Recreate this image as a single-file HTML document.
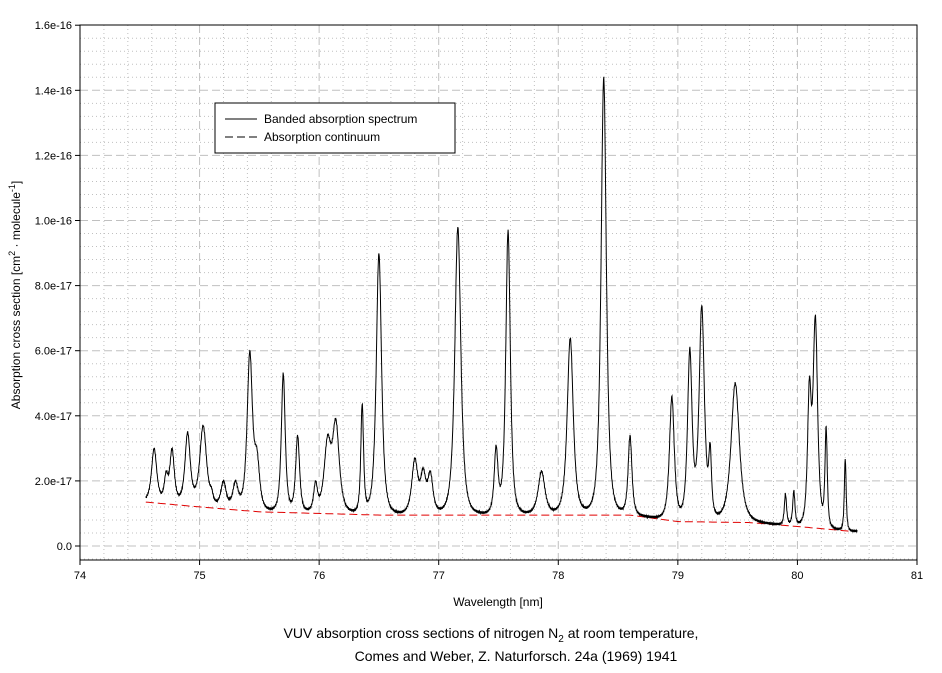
<!DOCTYPE html>
<html><head><style>
body{margin:0;background:#fff;}
svg text{font-family:"Liberation Sans",Arial,sans-serif;}
</style></head><body>
<svg id="s" width="942" height="668" xmlns="http://www.w3.org/2000/svg">
<rect width="942" height="668" fill="#fff"/>
<g id="grid"></g>
<rect x="80" y="25" width="837" height="535" fill="none" stroke="#000" stroke-width="1"/>
<g id="ticks" font-size="11"></g>
<path id="cont" fill="none" stroke="#e00000" stroke-width="1" stroke-dasharray="8,4"/>
<path id="spec" fill="none" stroke="#000" stroke-width="1"/>
<rect x="215" y="103" width="240" height="50" fill="#fff" stroke="#000"/>
<line x1="225" y1="119" x2="257" y2="119" stroke="#000"/>
<text x="264" y="123" font-size="12">Banded absorption spectrum</text>
<line x1="225" y1="137" x2="257" y2="137" stroke="#000" stroke-dasharray="8,4"/>
<text x="264" y="141" font-size="12">Absorption continuum</text>
<text x="498" y="606" font-size="12" text-anchor="middle">Wavelength [nm]</text>
<text transform="translate(20,295) rotate(-90)" font-size="12" text-anchor="middle">Absorption cross section [cm<tspan dy="-5" font-size="9">2</tspan><tspan dy="5"> · molecule</tspan><tspan dy="-5" font-size="9">-1</tspan><tspan dy="5">]</tspan></text>
<text x="491" y="638" font-size="14" text-anchor="middle">VUV absorption cross sections of nitrogen N<tspan dy="4" font-size="10">2</tspan><tspan dy="-4"> at room temperature,</tspan></text>
<text x="516" y="661" font-size="14" text-anchor="middle">Comes and Weber, Z. Naturforsch. 24a (1969) 1941</text>
</svg>
<script>
const X=l=>80+(l-74)*119.57, Y=v=>546-v*32.55;
const ns="http://www.w3.org/2000/svg";
const g=document.getElementById('grid'),t=document.getElementById('ticks');
function ln(p,x1,y1,x2,y2,st,da){const e=document.createElementNS(ns,'line');e.setAttribute('x1',x1);e.setAttribute('y1',y1);e.setAttribute('x2',x2);e.setAttribute('y2',y2);e.setAttribute('stroke',st);if(da)e.setAttribute('stroke-dasharray',da);p.appendChild(e);}
function tx(x,y,s,a){const e=document.createElementNS(ns,'text');e.setAttribute('x',x);e.setAttribute('y',y);e.setAttribute('text-anchor',a);e.textContent=s;t.appendChild(e);}
for(let i=0;i<=35;i++){const x=X(74+i*0.2);if(i%5)ln(g,x,25,x,560,'#c0c0c0','1,3');else if(i>0&&i<35)ln(g,x,25,x,560,'#c0c0c0','8,4');}
for(let i=-1;i<=40;i++){const y=Y(i*0.4);if(y<25||y>560)continue;if(i%5)ln(g,80,y,917,y,'#c0c0c0','1,3');else if(i<40)ln(g,80,y,917,y,'#c0c0c0','8,4');}
for(let i=0;i<=7;i++){const x=X(74+i);ln(t,x,560,x,565,'#000');tx(x,579,String(74+i),'middle');}
const yl=['0.0','2.0e-17','4.0e-17','6.0e-17','8.0e-17','1.0e-16','1.2e-16','1.4e-16','1.6e-16'];
for(let i=0;i<=8;i++){const y=Y(i*2);ln(t,75,y,80,y,'#000');tx(72,y+4,yl[i],'end');}
const bp=[[74.55,1.35],[75,1.2],[75.5,1.05],[76,1.0],[76.5,0.95],[78.6,0.95],[79,0.75],[79.6,0.72],[80,0.6],[80.45,0.45]];
function base(l){for(let i=0;i<bp.length-1;i++){if(l<=bp[i+1][0]){const a=bp[i],b=bp[i+1];return a[1]+(b[1]-a[1])*(l-a[0])/(b[0]-a[0]);}}return 0.45;}
const pk=[[74.62,3.0,.035],[74.72,2.3,.025],[74.77,3.0,.03],[74.9,3.5,.035],[75.03,3.7,.045],[75.1,1.8,.02],[75.2,2.0,.035],[75.3,2.0,.035],[75.42,6.0,.035],[75.48,3.0,.035],[75.7,5.3,.026],[75.82,3.4,.026],[75.97,2.0,.025],[76.07,3.4,.045],[76.14,3.9,.045],[76.36,4.4,.018],[76.5,9.0,.035],[76.8,2.7,.04],[76.87,2.4,.035],[76.93,2.3,.035],[77.16,9.8,.04],[77.48,3.1,.025],[77.58,9.7,.03],[77.86,2.3,.045],[78.1,6.4,.04],[78.38,14.4,.035],[78.6,3.4,.025],[78.95,4.6,.032],[79.1,6.1,.03],[79.2,7.4,.035],[79.27,3.2,.018],[79.48,5.0,.055],[79.9,1.6,.015],[79.97,1.7,.015],[80.1,5.2,.024],[80.15,7.1,.03],[80.24,3.7,.015],[80.4,2.7,.012]];
const amp=pk.map(p=>p[1]-base(p[0]));
function sum(l){let v=base(l);pk.forEach((p,i)=>{const u=(l-p[0])/p[2];v+=amp[i]*Math.pow(1+u*u,-1.6);});return v;}
for(let it=0;it<30;it++){pk.forEach((p,i)=>{const e=p[1]-sum(p[0]);amp[i]=Math.max(0.05,amp[i]+0.6*e);});}
let d='',c='';
for(let l=74.55;l<=80.5;l+=0.003){let v=sum(l)+0.04*Math.sin(l*1300);
d+=(d?'L':'M')+X(l).toFixed(1)+','+Y(v).toFixed(1);}
for(let l=74.55;l<=80.46;l+=0.02)c+=(c?'L':'M')+X(l).toFixed(1)+','+Y(base(l)).toFixed(1);
document.getElementById('spec').setAttribute('d',d);document.getElementById('cont').setAttribute('d',c);
</script>
</body></html>
